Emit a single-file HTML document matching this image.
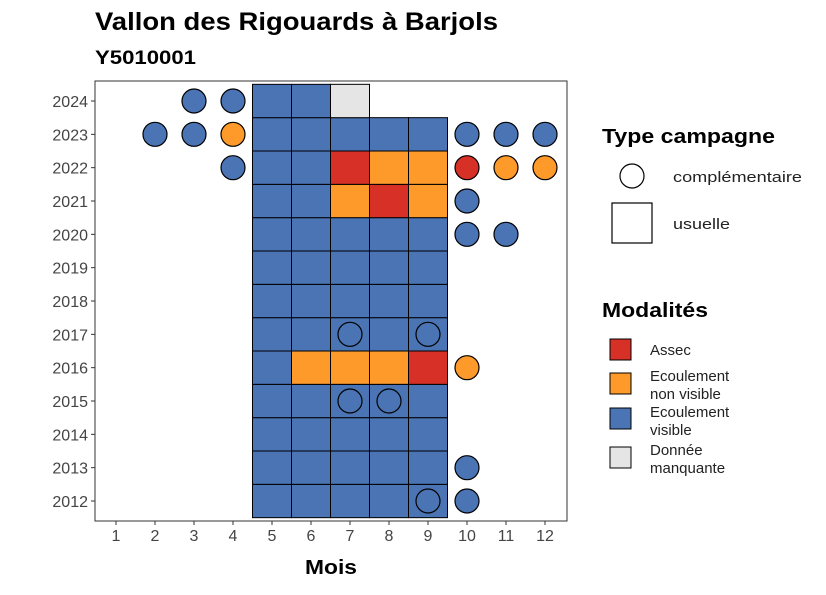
<!DOCTYPE html>
<html><head><meta charset="utf-8"><style>
body{margin:0;background:#fff;font-family:"Liberation Sans",sans-serif}
svg text{font-family:"Liberation Sans",sans-serif}
</style></head><body>
<svg width="826" height="590" xmlns="http://www.w3.org/2000/svg">
<text x="95" y="30" font-size="25" font-weight="bold" fill="#000" textLength="403" lengthAdjust="spacingAndGlyphs">Vallon des Rigouards à Barjols</text>
<text x="95" y="64" font-size="19" font-weight="bold" fill="#000" textLength="101" lengthAdjust="spacingAndGlyphs">Y5010001</text>
<g id="plot"></g>
<text x="331" y="574" font-size="20" font-weight="bold" text-anchor="middle" textLength="52" lengthAdjust="spacingAndGlyphs">Mois</text>
<g>
<text x="602" y="143" font-size="20" font-weight="bold" textLength="173" lengthAdjust="spacingAndGlyphs">Type campagne</text>
<circle cx="632" cy="176" r="12" fill="#fff" stroke="#000" stroke-width="1.2"/>
<text x="673" y="182" font-size="15" fill="#222" textLength="129" lengthAdjust="spacingAndGlyphs">complémentaire</text>
<rect x="612" y="203" width="40" height="40" fill="#fff" stroke="#000" stroke-width="1.2"/>
<text x="673" y="229" font-size="15" fill="#222" textLength="57" lengthAdjust="spacingAndGlyphs">usuelle</text>
</g>
<g>
<text x="602" y="317" font-size="20" font-weight="bold" textLength="106" lengthAdjust="spacingAndGlyphs">Modalités</text>
<rect x="610" y="339" width="21" height="21" fill="#D73027" stroke="#000"/>
<text x="650" y="355" font-size="15" fill="#222">Assec</text>
<rect x="610" y="373" width="21" height="21" fill="#FD9A2A" stroke="#000"/>
<text x="650" y="381" font-size="15" fill="#222">Ecoulement</text>
<text x="650" y="399" font-size="15" fill="#222">non visible</text>
<rect x="610" y="408" width="21" height="21" fill="#4A74B4" stroke="#000"/>
<text x="650" y="417" font-size="15" fill="#222">Ecoulement</text>
<text x="650" y="435" font-size="15" fill="#222">visible</text>
<rect x="610" y="447" width="21" height="21" fill="#E5E5E5" stroke="#000"/>
<text x="650" y="455" font-size="15" fill="#222">Donnée</text>
<text x="650" y="473" font-size="15" fill="#222">manquante</text>
</g>
</svg>
<script>
const months=[1,2,3,4,5,6,7,8,9,10,11,12];
const years=[2012,2013,2014,2015,2016,2017,2018,2019,2020,2021,2022,2023,2024];
// usual campaign tiles: [year, month, modality] A=assec O=non visible V=visible M=manquante
const tiles=[
[2012,5,'V'],[2012,6,'V'],[2012,7,'V'],[2012,8,'V'],[2012,9,'V'],
[2013,5,'V'],[2013,6,'V'],[2013,7,'V'],[2013,8,'V'],[2013,9,'V'],
[2014,5,'V'],[2014,6,'V'],[2014,7,'V'],[2014,8,'V'],[2014,9,'V'],
[2015,5,'V'],[2015,6,'V'],[2015,7,'V'],[2015,8,'V'],[2015,9,'V'],
[2016,5,'V'],[2016,6,'O'],[2016,7,'O'],[2016,8,'O'],[2016,9,'A'],
[2017,5,'V'],[2017,6,'V'],[2017,7,'V'],[2017,8,'V'],[2017,9,'V'],
[2018,5,'V'],[2018,6,'V'],[2018,7,'V'],[2018,8,'V'],[2018,9,'V'],
[2019,5,'V'],[2019,6,'V'],[2019,7,'V'],[2019,8,'V'],[2019,9,'V'],
[2020,5,'V'],[2020,6,'V'],[2020,7,'V'],[2020,8,'V'],[2020,9,'V'],
[2021,5,'V'],[2021,6,'V'],[2021,7,'O'],[2021,8,'A'],[2021,9,'O'],
[2022,5,'V'],[2022,6,'V'],[2022,7,'A'],[2022,8,'O'],[2022,9,'O'],
[2023,5,'V'],[2023,6,'V'],[2023,7,'V'],[2023,8,'V'],[2023,9,'V'],
[2024,5,'V'],[2024,6,'V'],[2024,7,'M']];
// complementary campaign points
const points=[
[2024,3,'V'],[2024,4,'V'],
[2023,2,'V'],[2023,3,'V'],[2023,4,'O'],[2023,10,'V'],[2023,11,'V'],[2023,12,'V'],
[2022,4,'V'],[2022,10,'A'],[2022,11,'O'],[2022,12,'O'],
[2021,10,'V'],[2020,10,'V'],[2020,11,'V'],
[2017,7,'V'],[2017,9,'V'],[2016,10,'O'],
[2015,7,'V'],[2015,8,'V'],[2013,10,'V'],[2012,9,'V'],[2012,10,'V']];
const colors={A:'#D73027',O:'#FD9A2A',V:'#4A74B4',M:'#E5E5E5'};
const L=95,R=567,T=81,B=521;
const xs=m=>116+(m-1)*39, ys=y=>501-(y-2012)*(400/12);
const cw=39,ch=400/12;
const NS='http://www.w3.org/2000/svg';
const g=document.getElementById('plot');
function mk(t,a){const e=document.createElementNS(NS,t);for(const k in a)e.setAttribute(k,a[k]);g.appendChild(e);return e;}
const panel=mk('rect',{x:L,y:T,width:R-L,height:B-T,fill:'#fff',stroke:'#333','stroke-width':1});


tiles.forEach(d=>{const r=mk('rect',{x:xs(d[1])-cw/2,y:ys(d[0])-ch/2,width:cw,height:ch,fill:colors[d[2]],stroke:'#000','stroke-width':1});

});
points.forEach(d=>{const c=mk('circle',{cx:xs(d[1]),cy:ys(d[0]),r:12,fill:colors[d[2]],stroke:'#000','stroke-width':1.2});

});
months.forEach(m=>{mk('line',{x1:xs(m),x2:xs(m),y1:B,y2:B+4,stroke:'#333'});
const t=mk('text',{x:xs(m),y:B+20,'font-size':16,fill:'#444','text-anchor':'middle'});t.textContent=m;

});
years.forEach(y=>{mk('line',{x1:L-4,x2:L,y1:ys(y),y2:ys(y),stroke:'#333'});
const t=mk('text',{x:L-7,y:ys(y)+6,'font-size':16,fill:'#444','text-anchor':'end'});t.textContent=y;

});
</script>
</body></html>
